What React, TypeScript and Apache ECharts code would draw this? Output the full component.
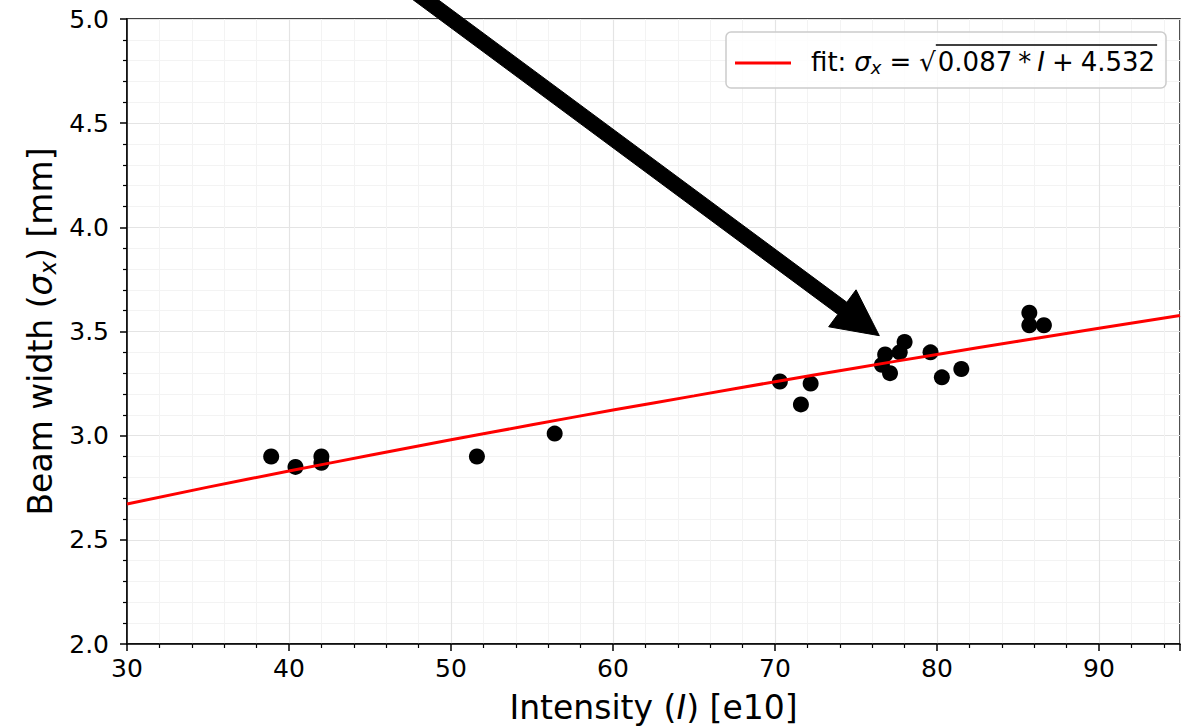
import React, { useEffect, useRef } from "react";
import * as echarts from "echarts";

// ---- data ----
const intensity = [38.9, 40.4, 42.0, 42.0, 51.6, 56.4, 70.3, 71.6, 72.2, 76.6, 76.8, 77.1, 77.7, 78.0, 79.6, 80.3, 81.5, 85.7, 85.7, 86.6];
const beamWidth = [2.90, 2.85, 2.90, 2.87, 2.90, 3.01, 3.26, 3.15, 3.25, 3.34, 3.39, 3.30, 3.40, 3.45, 3.40, 3.28, 3.32, 3.59, 3.53, 3.53];

const fitX = [30, 35, 40, 45, 50, 55, 60, 65, 70, 75, 80, 85, 90, 95];
const fitY = [2.672, 2.753, 2.830, 2.906, 2.980, 3.052, 3.123, 3.191, 3.259, 3.325, 3.390, 3.453, 3.516, 3.577];

const xTicks = [30, 40, 50, 60, 70, 80, 90];
const yTicks = ["2.0", "2.5", "3.0", "3.5", "4.0", "4.5", "5.0"];

const arrowTail = [45.0, 5.29];
const arrowTip = [76.44, 3.48];

const legendLabel = "fit";

const FONT = "DejaVu Sans";

type Seg = { t: string; size: number; italic?: boolean; dy?: number; gap?: number };

let ctx: CanvasRenderingContext2D | null = null;
function measure(s: Seg): number {
  if (!ctx) ctx = document.createElement("canvas").getContext("2d");
  ctx!.font = `${s.italic ? "italic " : ""}${s.size}px "${FONT}"`;
  return ctx!.measureText(s.t).width;
}

function layoutSegs(segs: Seg[], x0: number, yMid: number, center: boolean) {
  const widths = segs.map(measure);
  const total = widths.reduce((a, w, i) => a + w + (i < segs.length - 1 ? segs[i].gap || 0 : 0), 0);
  let x = center ? x0 - total / 2 : x0;
  const els: any[] = [];
  const starts: number[] = [];
  segs.forEach((s, i) => {
    starts.push(x);
    els.push({
      type: "text",
      x,
      y: yMid + (s.dy || 0),
      style: {
        text: s.t,
        fontSize: s.size,
        fontFamily: FONT,
        fontStyle: s.italic ? "italic" : "normal",
        fill: "#000",
        align: "left",
        verticalAlign: "middle",
      },
    });
    x += widths[i] + (s.gap || 0);
  });
  return { els, starts, end: x, total };
}

export default function App() {
  const ref = useRef<HTMLDivElement>(null);
  useEffect(() => {
    if (!ref.current) return;
    const chart = echarts.init(ref.current, undefined, { renderer: "svg" });

    const gridL = 127, gridT = 19, gridR = 1180, gridB = 644;

    // x-axis title
    const xt = layoutSegs(
      [
        { t: "Intensity (", size: 33 },
        { t: "I", size: 33, italic: true },
        { t: ") [e10]", size: 33 },
      ],
      (gridL + gridR) / 2,
      719 - 0.346 * 33,
      true
    );

    // y-axis title (rotated)
    const yt = layoutSegs(
      [
        { t: "Beam width (", size: 33 },
        { t: "σ", size: 33, italic: true },
        { t: "x", size: 23, italic: true, dy: 7 },
        { t: ") [mm]", size: 33 },
      ],
      0,
      0,
      true
    );

    // legend text
    const ls = 26;
    const leg = layoutSegs(
      [
        { t: legendLabel + ":", size: ls, gap: 8 },
        { t: "σ", size: ls, italic: true },
        { t: "x", size: 18, italic: true, dy: 5, gap: 8 },
        { t: "=", size: ls, gap: 8 },
        { t: "√", size: ls, gap: 2 },
        { t: "0.087", size: ls, gap: 6 },
        { t: "*", size: ls, gap: 6 },
        { t: "I", size: ls, italic: true, gap: 7 },
        { t: "+", size: ls, gap: 7 },
        { t: "4.532", size: ls },
      ],
      811,
      71 - 0.346 * ls,
      false
    );
    const overStart = leg.starts[5];

    const option: any = {
      animation: false,
      backgroundColor: "#fff",
      grid: {
        left: gridL,
        top: gridT,
        width: gridR - gridL,
        height: gridB - gridT,
        show: true,
        borderColor: "#000",
        borderWidth: 1.5,
        backgroundColor: "transparent",
      },
      xAxis: {
        type: "value",
        min: xTicks[0],
        max: 95,
        interval: 10,
        axisLine: { show: true, lineStyle: { color: "#000", width: 1.5 } },
        axisTick: { show: true, inside: false, length: 7, lineStyle: { color: "#000", width: 1.5 } },
        minorTick: { show: true, splitNumber: 5, length: 4, lineStyle: { color: "#000", width: 1.2 } },
        splitLine: { show: true, lineStyle: { color: "#e4e4e4", width: 1.2 } },
        minorSplitLine: { show: true, lineStyle: { color: "#f3f3f3", width: 1 } },
        axisLabel: {
          color: "#000",
          fontSize: 25,
          fontFamily: FONT,
          margin: 12,
          showMaxLabel: false,
          formatter: (v: number) => (xTicks.includes(v) ? String(v) : ""),
        },
      },
      yAxis: {
        type: "value",
        min: 2,
        max: 5,
        interval: 0.5,
        axisLine: { show: true, lineStyle: { color: "#000", width: 1.5 } },
        axisTick: { show: true, inside: false, length: 7, lineStyle: { color: "#000", width: 1.5 } },
        minorTick: { show: true, splitNumber: 5, length: 4, lineStyle: { color: "#000", width: 1.2 } },
        splitLine: { show: true, lineStyle: { color: "#e4e4e4", width: 1.2 } },
        minorSplitLine: { show: true, lineStyle: { color: "#f3f3f3", width: 1 } },
        axisLabel: {
          color: "#000",
          fontSize: 25,
          fontFamily: FONT,
          margin: 18,
          formatter: (v: number) => {
            const s = v.toFixed(1);
            return yTicks.includes(s) ? s : "";
          },
        },
      },
      series: [
        {
          type: "scatter",
          data: intensity.map((x, i) => [x, beamWidth[i]]),
          symbolSize: 16,
          itemStyle: { color: "#000", opacity: 1 },
          z: 2,
        },
        {
          type: "line",
          name: legendLabel,
          data: fitX.map((x, i) => [x, fitY[i]]),
          smooth: true,
          showSymbol: false,
          lineStyle: { color: "#ff0000", width: 3 },
          z: 3,
        },
        {
          type: "custom",
          coordinateSystem: "cartesian2d",
          clip: false,
          z: 5,
          data: [[arrowTail[0], arrowTail[1], arrowTip[0], arrowTip[1]]],
          renderItem: (_p: any, api: any) => {
            const p0 = api.coord([api.value(0), api.value(1)]);
            const p1 = api.coord([api.value(2), api.value(3)]);
            const dx = p1[0] - p0[0], dy = p1[1] - p0[1];
            const L = Math.hypot(dx, dy);
            const ux = dx / L, uy = dy / L;
            const nx = -uy, ny = ux;
            const w = 15, hw = 46, hl = 46;
            const bx = p1[0] - ux * hl, by = p1[1] - uy * hl;
            const pts = [
              [p0[0] + nx * w / 2, p0[1] + ny * w / 2],
              [bx + nx * w / 2, by + ny * w / 2],
              [bx + nx * hw / 2, by + ny * hw / 2],
              [p1[0], p1[1]],
              [bx - nx * hw / 2, by - ny * hw / 2],
              [bx - nx * w / 2, by - ny * w / 2],
              [p0[0] - nx * w / 2, p0[1] - ny * w / 2],
            ];
            return { type: "polygon", shape: { points: pts }, style: { fill: "#000", stroke: "#000", lineWidth: 1 } };
          },
        },
      ],
      graphic: [
        ...xt.els,
        {
          type: "group",
          x: 52 - 0.346 * 33,
          y: (gridT + gridB) / 2,
          rotation: Math.PI / 2,
          children: yt.els,
        },
        {
          type: "rect",
          shape: { x: 726, y: 32, width: 440, height: 56, r: 5 },
          style: { fill: "rgba(255,255,255,0.8)", stroke: "#cccccc", lineWidth: 1.5 },
          z: 10,
        },
        {
          type: "line",
          shape: { x1: 735, y1: 63, x2: 791, y2: 63 },
          style: { stroke: "#ff0000", lineWidth: 3 },
          z: 11,
        },
        ...leg.els.map((e: any) => ({ ...e, z: 11 })),
        {
          type: "line",
          shape: { x1: overStart - 2, y1: 45, x2: leg.end + 2, y2: 45 },
          style: { stroke: "#000", lineWidth: 1.5 },
          z: 11,
        },
      ],
    };
    chart.setOption(option);
    return () => chart.dispose();
  }, []);
  return <div ref={ref} style={{ position: "absolute", left: 0, top: 0, width: 1200, height: 726 }} />;
}
